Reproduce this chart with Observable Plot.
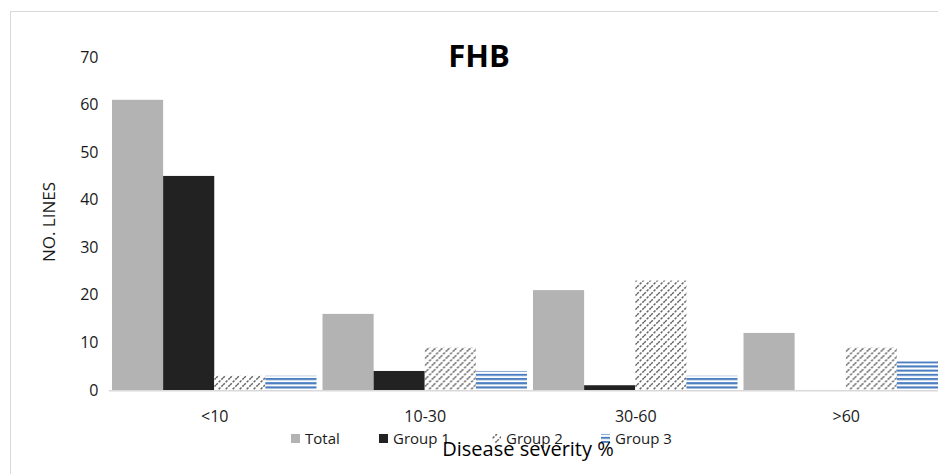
<!DOCTYPE html>
<html>
<head>
<meta charset="utf-8">
<script src="https://cdn.jsdelivr.net/npm/d3@7"></script>
<script src="https://cdn.jsdelivr.net/npm/@observablehq/plot@0.6"></script>
<style>
  html, body { margin: 0; padding: 0; background: #fff; overflow: hidden; }
  #wrap { position: relative; width: 938px; height: 474px; overflow: hidden; background: #fff; }
  #frame { position: absolute; left: 10px; top: 11px; width: 1000px; height: 1000px;
           border-left: 1px solid #d9d9d9; border-top: 1px solid #d9d9d9; }
  #chart { position: absolute; left: 0; top: 0; width: 954px; }
  #chart svg { max-width: none !important; }
</style>
</head>
<body>
<!-- fill patterns shared by the bars and the legend swatches -->
<svg width="0" height="0" style="position:absolute">
  <defs>
    <pattern id="hatch" patternUnits="userSpaceOnUse" width="7" height="7">
      <rect width="7" height="7" fill="#fff"/>
      <path d="M-1.75,1.75 L1.75,-1.75 M0,7 L7,0 M5.25,8.75 L8.75,5.25" stroke="#666" stroke-width="1.5" stroke-dasharray="2.5 1.3"/>
    </pattern>
    <pattern id="hlines" patternUnits="userSpaceOnUse" width="8" height="4.2">
      <rect width="8" height="4.2" fill="#fff"/>
      <rect y="0" width="8" height="2.1" fill="#4a7dc0"/>
    </pattern>
  </defs>
</svg>
<div id="wrap">
  <div id="frame"></div>
  <div id="chart"></div>
</div>
<script>
// Number of lines per FHB severity class
const categories = ["<10", "10-30", "30-60", ">60"];
const series = ["Total", "Group 1", "Group 2", "Group 3"];
const total  = [61, 16, 21, 12];
const group1 = [45, 4, 1, 0];
const group2 = [3, 9, 23, 9];
const group3 = [3, 4, 3, 6];
const yTicks = [0, 10, 20, 30, 40, 50, 60, 70];

const seriesValues = [total, group1, group2, group3];
const seriesFills = ["#b3b3b3", "#222222", "url(#hatch)", "url(#hlines)"];

const rows = categories.flatMap((c, i) =>
  series.map((s, j) => ({category: c, series: s, value: seriesValues[j][i]}))
);

const font = "'Open Sans', 'Noto Sans', sans-serif";

const chart = Plot.plot({
  width: 954,
  height: 474,
  marginLeft: 106,
  marginRight: 0,
  marginTop: 57,
  marginBottom: 84,
  style: {fontFamily: font, fontSize: "16px", color: "#1a1a1a", background: "transparent", overflow: "visible", maxWidth: "none"},
  facet: {data: rows, x: "category"},
  fx: {domain: categories, paddingInner: 0.0285, paddingOuter: 0.0285, round: false, axis: "bottom", label: null, tickSize: 0, tickPadding: 20},
  x: {domain: series, padding: 0, round: false, axis: null},
  y: {domain: [0, 70], ticks: yTicks, tickSize: 0, tickPadding: 14, label: null},
  color: {domain: series, range: seriesFills},
  marks: [
    Plot.barY(rows, {x: "series", y: "value", fill: "series"})
  ]
});

document.getElementById("chart").appendChild(chart);

const svg = d3.select(chart);
const y0 = chart.scale("y").apply(0);

// category axis line running across all groups
svg.append("line")
  .attr("x1", 109).attr("x2", 954)
  .attr("y1", y0 + 0.75).attr("y2", y0 + 0.75)
  .attr("stroke", "#d9d9d9").attr("stroke-width", 1.5);

const labels = svg.append("g")
  .attr("font-family", font)
  .attr("fill", "#000")
  .attr("text-anchor", "start");

// chart title
labels.append("text")
  .attr("x", 479).attr("y", 67)
  .attr("text-anchor", "middle")
  .attr("font-size", 31).attr("font-weight", "bold")
  .text("FHB");

// value axis title
labels.append("text")
  .attr("transform", "translate(55,222) rotate(-90)")
  .attr("text-anchor", "middle")
  .attr("font-size", 17).attr("fill", "#1a1a1a")
  .text("NO. LINES");

// legend
const legendX = [291, 379, 492, 601];
const legend = labels.append("g").attr("font-size", 15).attr("fill", "#1a1a1a");
series.forEach((s, i) => {
  legend.append("rect")
    .attr("x", legendX[i]).attr("y", 434)
    .attr("width", 9).attr("height", 9)
    .attr("fill", seriesFills[i]);
  legend.append("text")
    .attr("x", legendX[i] + 14).attr("y", 444)
    .attr("text-anchor", "start")
    .text(s);
});

// category axis title
labels.append("text")
  .attr("x", 528).attr("y", 456)
  .attr("text-anchor", "middle")
  .attr("font-size", 20)
  .text("Disease severity %");
</script>
</body>
</html>
